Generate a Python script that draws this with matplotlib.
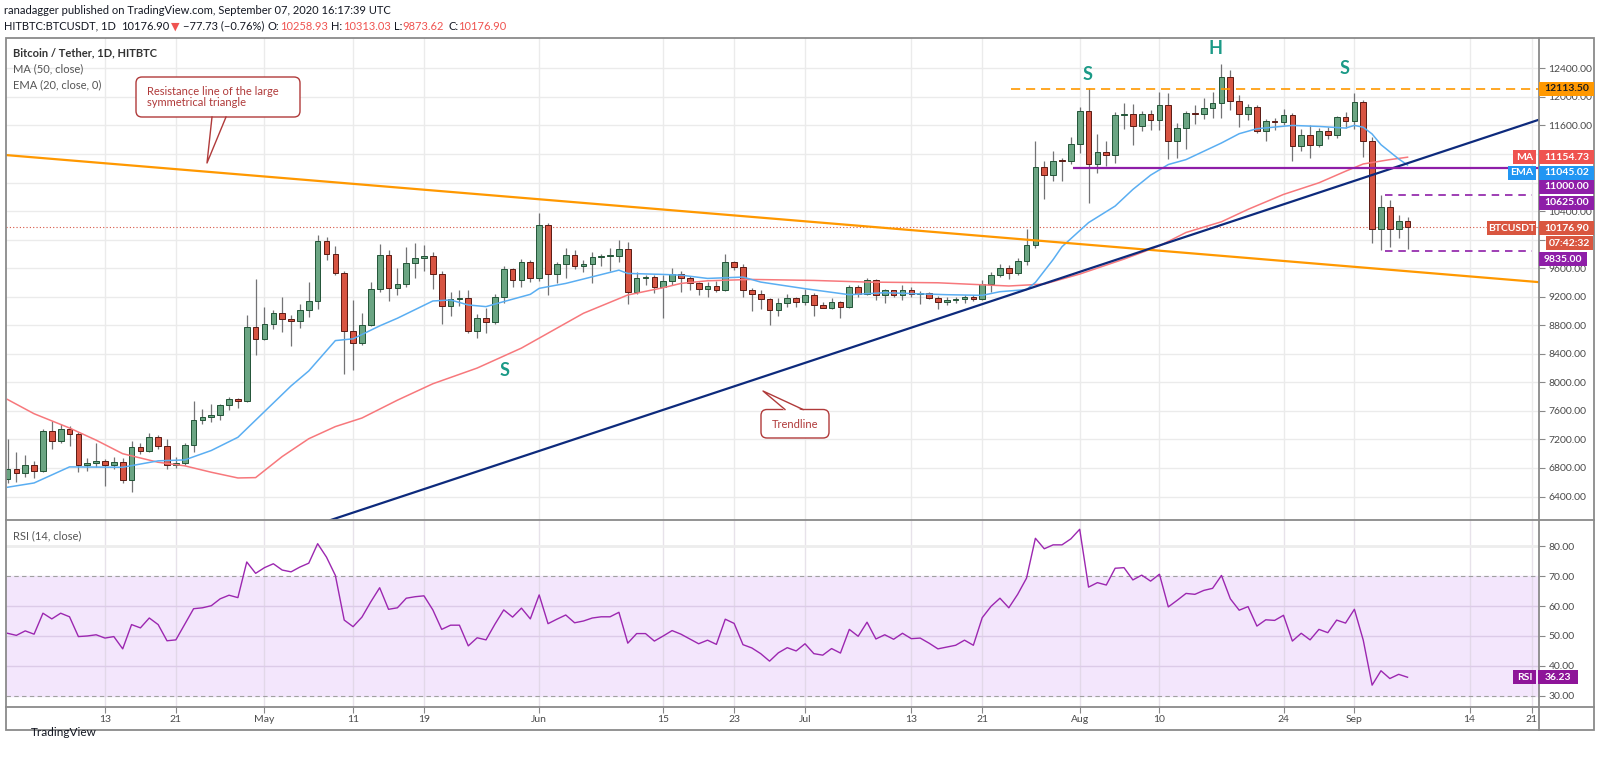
import numpy as np
import pandas as pd
import matplotlib
matplotlib.use("Agg")
import matplotlib.pyplot as plt
from matplotlib.patches import Rectangle, FancyBboxPatch, Polygon
from matplotlib.lines import Line2D
from matplotlib.transforms import Affine2D, Bbox, TransformedBbox, blended_transform_factory

plt.rcParams["font.family"] = ["Lato", "DejaVu Sans"]

# ---------------- data ----------------
start_date, end_date = "2020-04-02", "2020-09-07"

opens = [
    6645, 6784, 6724, 6845, 6761, 7318, 7179, 7350, 7280, 6845, 6870, 6900, 6845, 6880, 6630,
    7100, 7040, 7234, 7110, 6845, 6870, 7120, 7471, 7510, 7545, 7680, 7773, 7745, 8780,
    8608, 8817, 8965, 8885, 8860, 9012, 9142, 9986, 9800, 9531, 8719, 8557, 8806, 9303, 9791, 9317,
    9383, 9679, 9744, 9772, 9512, 9075, 9163, 9177, 8721, 8898, 8842, 9200, 9582, 9433, 9689,
    9456, 10209, 9512, 9665, 9791, 9628, 9665, 9754, 9770, 9772, 9875, 9270, 9465, 9479, 9340,
    9419, 9521, 9465, 9386, 9307, 9354, 9289, 9684, 9623, 9289, 9242, 9172, 9019, 9117, 9186,
    9126, 9223, 9079, 9047, 9126, 9056, 9335, 9242, 9437, 9219, 9289, 9228, 9298, 9242, 9250, 9186,
    9126, 9154, 9172, 9196, 9163, 9382, 9507, 9600, 9535, 9698, 9926, 11014, 10903, 11107, 11100,
    11340, 11805, 11061, 11228, 11191, 11740, 11758, 11586, 11758, 11679, 11888, 11386, 11563, 11772,
    11763, 11851, 11912, 12284, 11949, 11763, 11865, 11526, 11656, 11647, 11749, 11317, 11470, 11330,
    11526, 11470, 11716,
    11656, 11926, 11386, 10145, 10456, 10150, 10258.93,
]
highs = [
    7202, 7030, 6980, 6900, 7341, 7457, 7420, 7388, 7300, 6933, 7156, 6920, 6956, 6935, 7179,
    7150, 7286, 7260, 7202, 6950, 7150, 7736, 7620, 7703, 7700, 7800, 7780, 8942, 9452,
    9049, 9012, 9197, 8950, 9104, 9406, 10065, 10042, 9916, 9560, 9160, 8968, 9410, 9944, 9851,
    9596, 9898, 9958, 9921, 9830, 9560, 9270, 9300, 9300, 8954, 9038, 9233, 9628, 9600, 9735, 9720,
    10377, 10230, 9690, 9884, 9851, 9720, 9828, 9800, 9884, 10000, 9968, 9549, 9500, 9500, 9500,
    9596, 9560, 9490, 9400, 9400, 9420, 9800, 9700, 9660, 9320, 9290, 9182, 9180, 9233, 9200,
    9312, 9250, 9130, 9182, 9140, 9365, 9370, 9460, 9450, 9310, 9300, 9358, 9340, 9280, 9270, 9210,
    9190, 9200, 9230, 9220, 9428, 9540, 9660, 9640, 9740, 10150, 11386, 11100, 11237, 11150, 11433,
    11865, 12121, 11484, 11386, 11795, 11912, 11898, 11800, 11810, 12075, 12050, 11630, 11800, 11889,
    11991, 12065, 12460, 12377, 12030, 11900, 11890, 11689, 11700, 11833, 11770, 11554, 11600, 11560,
    11580, 11730, 11786,
    12051, 11950, 11440, 10625, 10550, 10350, 10313.03,
]
lows = [
    6590, 6600, 6680, 6660, 6740, 7063, 7150, 7109, 6738, 6761, 6810, 6553, 6790, 6590, 6460,
    7000, 7020, 7060, 6790, 6800, 6845, 7030, 7420, 7450, 7471, 7610, 7643, 7720, 8385,
    8600, 8750, 8710, 8510, 8756, 8919, 9026, 9708, 9500, 8116, 8176, 8530, 8790, 9260, 9140,
    9224, 9330, 9456, 9560, 9307, 8814, 8935, 9070, 8698, 8619, 8689, 8820, 9110, 9340, 9340, 9400,
    9420, 9224, 9386, 9456, 9590, 9540, 9386, 9630, 9558, 9690, 9093, 9238, 9370, 9250, 8907,
    9370, 9270, 9290, 9230, 9200, 9270, 9280, 9570, 9196, 8996, 9033, 8810, 8930, 9060, 9056,
    9090, 8930, 9040, 9030, 8903, 9040, 9200, 9230, 9149, 9110, 9190, 9150, 9200, 9103, 9170, 9033,
    9090, 9110, 9110, 9140, 9150, 9265, 9470, 9451, 9500, 9640, 9880, 10563, 10819, 10828, 11061,
    11214, 10517, 10935, 11028, 11075, 11554, 11330, 11517, 11530, 11530, 11135, 11145, 11270, 11620,
    11690, 11700, 11702, 11819, 11572, 11680, 11500, 11377, 11530, 11600, 11107, 11237, 11145, 11293,
    11410, 11420, 11560,
    11550, 11158, 9948, 9860, 9900, 10020, 9873.62,
]
closes = [
    6784, 6724, 6845, 6761, 7318, 7179, 7350, 7280, 6845, 6870, 6900, 6845, 6880, 6630, 7100,
    7040, 7234, 7110, 6845, 6870, 7120, 7471, 7510, 7545, 7680, 7773, 7745, 8780, 8608,
    8817, 8965, 8885, 8860, 9012, 9142, 9986, 9800, 9531, 8719, 8557, 8806, 9303, 9791, 9317,
    9383, 9679, 9744, 9772, 9512, 9075, 9163, 9177, 8721, 8898, 8842, 9200, 9582, 9433, 9689, 9456,
    10209, 9512, 9665, 9791, 9628, 9665, 9754, 9770, 9772, 9875, 9270, 9465, 9479, 9340, 9419,
    9521, 9465, 9386, 9307, 9354, 9289, 9684, 9623, 9289, 9242, 9172, 9019, 9117, 9186, 9126,
    9223, 9079, 9047, 9126, 9056, 9335, 9242, 9437, 9219, 9289, 9228, 9298, 9242, 9250, 9186, 9126,
    9154, 9172, 9196, 9163, 9382, 9507, 9600, 9535, 9698, 9926, 11014, 10903, 11107, 11100, 11340,
    11805, 11061, 11228, 11191, 11740, 11758, 11586, 11758, 11679, 11888, 11386, 11563, 11772, 11763,
    11851, 11912, 12284, 11949, 11763, 11865, 11526, 11656, 11647, 11749, 11317, 11470, 11330, 11526,
    11470, 11716, 11656,
    11926, 11386, 10145, 10456, 10150, 10258.93, 10176.90,
]
rsi = [
    50.9, 50.2, 51.7, 50.6, 57.6, 55.7, 57.6, 56.4, 49.8, 50.0, 50.4, 49.3, 49.8, 45.7, 53.8,
    52.7, 56.0, 53.8, 48.4, 48.7, 53.9, 59.1, 59.4, 60.1, 62.4, 63.6, 62.8, 74.7, 70.9,
    72.8, 74.1, 72.0, 71.4, 73.0, 74.3, 80.8, 76.3, 70.2, 55.3, 53.1, 56.3, 61.4, 66.1, 58.9,
    59.4, 62.6, 63.1, 63.4, 58.7, 52.2, 53.6, 53.6, 46.7, 49.4, 48.7, 53.9, 58.7, 56.3, 59.3, 55.7,
    63.7, 54.1, 55.6, 57.0, 54.4, 55.0, 56.0, 56.4, 56.4, 57.9, 47.6, 50.8, 50.8, 48.3, 50.0,
    51.8, 50.6, 49.0, 47.4, 48.6, 47.2, 55.6, 54.2, 47.1, 46.0, 44.1, 41.6, 44.4, 46.1, 45.0,
    47.4, 44.1, 43.6, 45.8, 44.3, 52.2, 49.9, 54.6, 49.0, 50.4, 48.9, 50.9, 49.1, 49.3, 47.6, 45.7,
    46.3, 46.9, 48.6, 46.9, 56.1, 59.9, 62.6, 59.4, 63.9, 69.3, 82.6, 79.1, 80.4, 80.4, 82.4,
    85.6, 66.3, 67.8, 67.0, 72.6, 72.8, 68.7, 70.3, 68.3, 70.6, 59.7, 61.9, 64.2, 63.9,
    65.2, 65.9, 70.2, 62.4, 58.6, 59.8, 53.3, 55.4, 55.2, 56.9, 48.3, 50.9, 48.7, 52.2,
    51.1, 55.3, 54.3,
    58.9, 48.6, 33.6, 38.4, 35.8, 37.2, 36.23,
]

ma_dates = ["2020-04-02", "2020-04-05", "2020-04-09", "2020-04-12", "2020-04-15", "2020-04-19",
            "2020-04-22", "2020-04-25", "2020-04-28", "2020-04-30", "2020-05-03", "2020-05-06",
            "2020-05-09", "2020-05-12", "2020-05-16", "2020-05-20", "2020-05-25", "2020-05-30",
            "2020-06-06", "2020-06-11", "2020-06-15", "2020-06-17", "2020-06-20", "2020-06-25",
            "2020-07-02", "2020-07-08", "2020-07-16", "2020-07-24", "2020-07-28", "2020-08-01",
            "2020-08-06", "2020-08-10", "2020-08-13", "2020-08-17", "2020-08-20", "2020-08-24",
            "2020-08-28", "2020-08-31", "2020-09-02", "2020-09-05", "2020-09-07"]
ma_vals = [7760, 7560, 7360, 7190, 7000, 6880, 6830, 6740, 6660, 6665, 6960, 7210, 7380, 7500,
           7750, 7980, 8200, 8480, 8968, 9224, 9326, 9386, 9423, 9442, 9428, 9405, 9395, 9350,
           9377, 9517, 9727, 9912, 10100, 10250, 10424, 10633, 10796, 10958, 11060, 11121, 11154.73]

ema_dates = ["2020-04-02", "2020-04-05", "2020-04-09", "2020-04-15", "2020-04-19", "2020-04-22",
             "2020-04-25", "2020-04-28", "2020-05-01", "2020-05-04", "2020-05-06", "2020-05-09",
             "2020-05-11", "2020-05-14", "2020-05-16", "2020-05-20", "2020-05-22", "2020-05-24",
             "2020-05-26", "2020-05-28", "2020-05-31", "2020-06-01", "2020-06-04", "2020-06-10",
             "2020-06-11", "2020-06-15", "2020-06-17", "2020-06-20", "2020-06-24", "2020-06-26",
             "2020-07-01", "2020-07-06", "2020-07-10", "2020-07-17", "2020-07-21", "2020-07-23",
             "2020-07-26", "2020-07-27", "2020-07-29", "2020-07-30", "2020-08-02", "2020-08-05",
             "2020-08-07", "2020-08-09", "2020-08-11", "2020-08-13", "2020-08-17", "2020-08-19",
             "2020-08-21", "2020-08-25", "2020-08-28", "2020-08-31", "2020-09-01", "2020-09-02",
             "2020-09-03", "2020-09-04", "2020-09-05", "2020-09-06", "2020-09-07"]
ema_vals = [6530, 6590, 6815, 6810, 6900, 6913, 7045, 7230, 7590, 7950, 8160, 8585, 8610, 8791,
            8898, 9140, 9154, 9084, 9061, 9131, 9233, 9317, 9386, 9572, 9526, 9512, 9502, 9456,
            9475, 9405, 9312, 9228, 9256, 9228, 9219, 9270, 9300, 9400, 9720, 9900, 10238, 10470,
            10703, 10903, 11052, 11121, 11354, 11484, 11554, 11600, 11586, 11563, 11600, 11575,
            11480, 11330, 11230, 11130, 11045.02]

# drawn trendlines: two anchor points each (date, price)
resist_pts = [("2020-07-23 05:00", 10028), ("2020-09-05 10:00", 9573)]
trend_pts = [("2020-07-05 22:00", 8475), ("2020-09-05 10:00", 11005)]
neck_level, neck_from = 12113.50, "2020-07-24 05:00"
support_level, support_from = 11000.0, "2020-07-31 07:00"
range_levels, range_from, range_to = [10625.0, 9835.0], "2020-09-04 10:00", "2020-09-21"
last_price = 10176.90

price_ticks = list(range(6400, 12401, 400))
hidden_price_ticks = [10000, 10800, 11200]   # covered by the coloured tags on the axis
rsi_ticks = [30, 40, 50, 60, 70, 80]

tick_dates = ["2020-04-13", "2020-04-21", "2020-05-01", "2020-05-11", "2020-05-19", "2020-06-01",
              "2020-06-15", "2020-06-23", "2020-07-01", "2020-07-13", "2020-07-21", "2020-08-01",
              "2020-08-10", "2020-08-24", "2020-09-01", "2020-09-14", "2020-09-21"]
tick_labels = ["13", "21", "May", "11", "19", "Jun", "15", "23", "Jul", "13", "21", "Aug",
               "10", "24", "Sep", "14", "21"]

# ---------------- helpers ----------------
W, H = 1600, 763
DAY0 = pd.Timestamp("2020-04-13")


def day(s):
    return (pd.Timestamp(s) - DAY0) / pd.Timedelta(days=1)


def fx(px):
    return px / W


def fy(py):
    return 1 - py / H


dates = pd.date_range(start_date, end_date, freq="D")
x = np.array([day(d) for d in dates])
o, hi, lo, c = map(np.array, (opens, highs, lows, closes))

fig = plt.figure(figsize=(16, 7.63), dpi=100, facecolor="white")
T = Affine2D().scale(1 / W, -1 / H).translate(0, 1) + fig.transFigure   # pixel coords, y down

L, R = 6, 1538.7
ax = fig.add_axes([fx(L), fy(520), fx(R) - fx(L), fy(38) - fy(520)])
rx = fig.add_axes([fx(L), fy(707), fx(R) - fx(L), fy(520) - fy(707)])

XL = (-11.17, 161.8)
for a in (ax, rx):
    a.set_xlim(*XL)
    for s in a.spines.values():
        s.set_visible(False)
    a.set_facecolor("white")

ax.set_ylim(6071, 12825)
rx.set_ylim(26.3, 88.7)

grid_x = [day(d) for d in tick_dates]
GRID = "#ebebeb"
for gx in grid_x:
    ax.axvline(gx, color=GRID, lw=1, zorder=0)
for gy in price_ticks:
    ax.axhline(gy, color=GRID, lw=1, zorder=0)

# ---------------- price pane ----------------
up = c >= o
ax.vlines(x, lo, hi, color="#737375", lw=0.9, zorder=3)
body_lo = np.minimum(o, c)
body_h = np.maximum(np.abs(c - o), 10)
ax.bar(x, body_h, bottom=body_lo, width=0.64,
       color=np.where(up, "#6ba583", "#d75442"),
       edgecolor=np.where(up, "#225437", "#5b1a13"), lw=0.7, zorder=4)

ax.plot([day(d) for d in ma_dates], ma_vals, color="#f7787c", lw=1.1, zorder=5)
ax.plot([day(d) for d in ema_dates], ema_vals, color="#5aaef2", lw=1.1, zorder=5)

ax.axline((day(resist_pts[0][0]), resist_pts[0][1]), (day(resist_pts[1][0]), resist_pts[1][1]),
          color="#ff9800", lw=1.6, zorder=6)
ax.axline((day(trend_pts[0][0]), trend_pts[0][1]), (day(trend_pts[1][0]), trend_pts[1][1]),
          color="#0d2a7c", lw=1.6, zorder=6)

ax.hlines(neck_level, day(neck_from), XL[1], colors="#ff9800", lw=1.2,
          linestyles=(0, (5.5, 3.5)), zorder=6)
ax.hlines(support_level, day(support_from), XL[1], colors="#8e1ea8", lw=1.6, zorder=6)
for lv in range_levels:
    ax.hlines(lv, day(range_from), day(range_to), colors="#8e1ea8", lw=1.2,
              linestyles=(0, (4.5, 3.5)), zorder=6)
ax.axhline(last_price, color="#d75442", lw=0.8, ls=(0, (1, 2)), zorder=2)

ax.set_xticks([])
ax.yaxis.tick_right()
ax.set_yticks(price_ticks)
ax.set_yticklabels(["" if v in hidden_price_ticks else f"{v:.2f}" for v in price_ticks])
ax.tick_params(axis="y", length=4, color="#888888", labelsize=7.5, labelcolor="#4a4a4a", pad=3)

# ---------------- RSI pane ----------------
rx.axhspan(30, 70, color="#f3e6fc", zorder=0)
for gx in grid_x:
    rx.axvline(gx, color="#d8d0dc", lw=1, alpha=0.6, zorder=1)
for gy in (40, 50, 60):
    rx.axhline(gy, color="#dccbe8", lw=1, zorder=1)
rx.axhline(80, color="#ededed", lw=2, zorder=1)
for gy in (30, 70):
    rx.axhline(gy, color="#a0a0a0", lw=0.8, ls=(0, (4, 3)), zorder=2)
rx.plot(x, rsi, color="#9c27b0", lw=1.0, zorder=3)
rx.yaxis.tick_right()
rx.set_yticks(rsi_ticks)
rx.set_yticklabels([f"{v:.2f}" for v in rsi_ticks])
rx.tick_params(axis="y", length=4, color="#888888", labelsize=7.5, labelcolor="#4a4a4a", pad=3)
rx.set_xticks(grid_x)
rx.set_xticklabels([])
rx.tick_params(axis="x", length=4, color="#888888", direction="out")

xt = blended_transform_factory(rx.transData, fig.transFigure)
clip = TransformedBbox(Bbox([[0, 0], [fx(R), 1]]), fig.transFigure)
for gx, lab in zip(grid_x, tick_labels):
    t = fig.text(gx, fy(719), lab, transform=xt, ha="center", va="center",
                 fontsize=7.5, color="#4a4a4a")
    t.set_clip_box(clip)
    t.set_clip_on(True)

# ---------------- frame ----------------
FR = "#8a8a8a"
fig.add_artist(Rectangle((L, 38), 1594 - L, 730 - 38, transform=T, fill=False, ec=FR, lw=1.3, zorder=2))
for yy in (520, 707):
    fig.add_artist(Line2D([L, 1594], [yy, yy], transform=T, color=FR, lw=1.3, zorder=2))
fig.add_artist(Line2D([R, R], [38, 730], transform=T, color=FR, lw=1.3, zorder=2))

# ---------------- right axis tags ----------------
pt = blended_transform_factory(fig.transFigure, ax.transData)
rt = blended_transform_factory(fig.transFigure, rx.transData)


def tag(trans, yv, half, x0, x1, text, face, tcol="white"):
    fig.add_artist(Rectangle((fx(x0), yv - half), fx(x1) - fx(x0), 2 * half, transform=trans,
                             fc=face, ec=face, lw=0, zorder=4))
    fig.text(fx((x0 + x1) / 2), yv, text, transform=trans, ha="center", va="center",
             fontsize=7.5, color=tcol, fontweight="bold", zorder=5)


PH = 7 * 14.011
tag(pt, 12113.5, PH, 1539, 1594, "12113.50", "#ff9800", "#1e1e1e")
tag(pt, 11154.73, PH, 1513, 1536, "MA", "#ef5350")
tag(pt, 11154.73, PH, 1539, 1594, "11154.73", "#ef5350")
tag(pt, 10937, PH, 1508, 1536, "EMA", "#2196f3")
tag(pt, 10937, PH, 1539, 1594, "11045.02", "#2196f3")
tag(pt, 10741, PH, 1539, 1594, "11000.00", "#8e1ea8")
tag(pt, 10517, PH, 1539, 1594, "10625.00", "#8e1ea8")
tag(pt, 10157, PH, 1487, 1536, "BTCUSDT", "#d95640")
tag(pt, 10157, PH, 1539, 1594, "10176.90", "#d95640")
tag(pt, 9948, PH, 1546, 1593, "07:42:32", "#d95640")
tag(pt, 9724, PH, 1539, 1587, "9835.00", "#8e1ea8")
tag(rt, 36.23, 2.4, 1513, 1536, "RSI", "#8e1599")
tag(rt, 36.23, 2.4, 1538, 1578, "36.23", "#8e1599")

# ---------------- pattern letters & callouts ----------------
TEAL = "#1b9a87"
for (px_, py_, s) in [(1088, 75, "S"), (1215, 49, "H"), (1345, 69, "S"), (505, 370, "S")]:
    fig.text(px_, py_, s, transform=T, ha="center", va="center", fontsize=13,
             fontweight="bold", color=TEAL, zorder=6)

CR = "#b03a3a"


def callout(box, base, tip, lines, tx, ha):
    x0, y0, x1, y1 = box
    fig.add_artist(FancyBboxPatch((x0, y0), x1 - x0, y1 - y0, transform=T,
                                  boxstyle="round,pad=0,rounding_size=6",
                                  fc="white", ec=CR, lw=1.0, zorder=6))
    fig.add_artist(Polygon([(base[0], base[2] + 1.5), tip, (base[1], base[2] + 1.5)], closed=True,
                           transform=T, fc="white", ec="none", zorder=7))
    fig.add_artist(Line2D([base[0], tip[0], base[1]], [base[2], tip[1], base[2]], transform=T,
                          color=CR, lw=1.0, zorder=7))
    fig.text(tx[0], tx[1], lines, transform=T, ha=ha, va="center", fontsize=8,
             color=CR, linespacing=1.0, zorder=8)


callout((136, 77, 300, 117), (212, 226, 117), (207, 163),
        "Resistance line of the large\nsymmetrical triangle", (147, 97), "left")
callout((761, 409.5, 829, 438), (785, 803, 409.5), (763, 391), "Trendline", (795, 424), "center")

# ---------------- header / legend texts ----------------
fig.canvas.draw()
rend = fig.canvas.get_renderer()


def runs(x0, y0, parts, size=8):
    xx = x0
    for s, col, gap in parts:
        t = fig.text(fx(xx), fy(y0), s, color=col, fontsize=size, ha="left", va="center")
        xx += t.get_window_extent(rend).width + gap


DK, RD = "#131722", "#ef5350"
runs(4, 11, [("ranadagger published on TradingView.com, September 07, 2020 16:17:39 UTC", DK, 0)])
runs(4, 26, [("HITBTC:BTCUSDT, 1D", DK, 5), ("10176.90", DK, 2), ("\u25BC", RD, 3),
             ("\u221277.73 (\u22120.76%)", DK, 4), ("O:", DK, 0), ("10258.93", RD, 4),
             ("H:", DK, 0), ("10313.03", RD, 4), ("L:", DK, 0), ("9873.62", RD, 4),
             ("C:", DK, 0), ("10176.90", RD, 0)])

fig.text(fx(13), fy(53), "Bitcoin / Tether, 1D, HITBTC", fontsize=8, color="#333333",
         fontweight="bold", va="center")
fig.text(fx(13), fy(69), "MA (50, close)", fontsize=8, color="#555555", va="center")
fig.text(fx(13), fy(85), "EMA (20, close, 0)", fontsize=8, color="#555555", va="center")
fig.text(fx(13), fy(536), "RSI (14, close)", fontsize=8, color="#555555", va="center")
fig.text(fx(31), fy(733), "TradingView", fontsize=8.5, color=DK, va="center")

fig.savefig("out.png", dpi=100, facecolor="white")
